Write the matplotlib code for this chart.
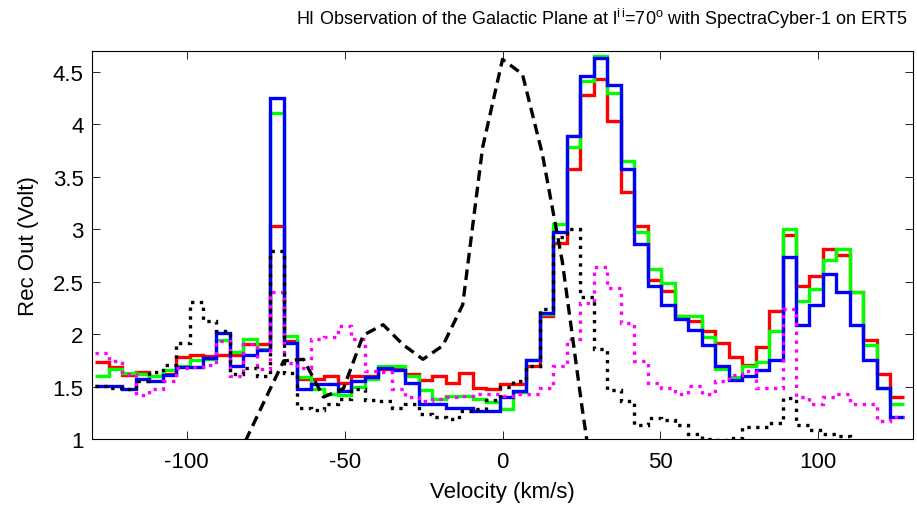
"""HI spectrum of the galactic plane at l=70 deg, SpectraCyber-1 (ERT5)."""

import numpy as np
import matplotlib.pyplot as plt

plt.rcParams["font.family"] = ["Liberation Sans", "DejaVu Sans"]
plt.rcParams["mathtext.default"] = "regular"
plt.rcParams["axes.unicode_minus"] = False

# channel edges of the receiver sweep (km/s), 60 channels
edges = np.linspace(-129.0, 127.1, 61)

red = [1.73, 1.69, 1.61, 1.64, 1.60, 1.62, 1.78, 1.80, 1.79, 1.80,
       1.80, 1.91, 1.91, 3.03, 1.93, 1.57, 1.57, 1.60, 1.53, 1.60,
       1.60, 1.67, 1.67, 1.62, 1.56, 1.60, 1.53, 1.63, 1.49, 1.48,
       1.52, 1.52, 1.70, 2.17, 2.87, 3.57, 4.28, 4.43, 4.03, 3.36,
       3.03, 2.52, 2.41, 2.17, 2.13, 2.03, 1.92, 1.78, 1.71, 1.88,
       2.22, 2.95, 2.46, 2.55, 2.81, 2.75, 2.40, 1.94, 1.62, 1.40]

green = [1.60, 1.67, 1.63, 1.62, 1.60, 1.66, 1.70, 1.75, 1.76, 1.94,
         1.83, 1.95, 1.86, 4.11, 1.98, 1.59, 1.48, 1.43, 1.42, 1.50,
         1.57, 1.70, 1.70, 1.60, 1.47, 1.38, 1.41, 1.41, 1.38, 1.35,
         1.29, 1.45, 1.75, 2.19, 3.05, 3.78, 4.41, 4.65, 4.30, 3.65,
         2.97, 2.62, 2.49, 2.17, 2.17, 1.97, 1.67, 1.59, 1.70, 1.73,
         2.03, 3.00, 2.32, 2.43, 2.71, 2.81, 2.40, 1.90, 1.49, 1.33]

blue = [1.51, 1.51, 1.48, 1.57, 1.55, 1.61, 1.69, 1.69, 1.77, 2.01,
        1.70, 1.80, 1.85, 4.25, 1.92, 1.48, 1.52, 1.52, 1.46, 1.55,
        1.59, 1.68, 1.66, 1.53, 1.33, 1.33, 1.30, 1.30, 1.27, 1.27,
        1.40, 1.46, 1.75, 2.20, 2.97, 3.89, 4.46, 4.63, 4.38, 3.57,
        2.86, 2.46, 2.28, 2.14, 2.04, 1.90, 1.70, 1.56, 1.60, 1.66,
        1.75, 2.74, 2.09, 2.28, 2.57, 2.40, 2.09, 1.75, 1.49, 1.21]

magenta = [1.82, 1.74, 1.62, 1.42, 1.48, 1.55, 1.68, 1.69, 1.71, 1.93,
           1.60, 1.91, 1.67, 2.40, 1.72, 1.68, 1.95, 1.97, 2.08, 1.95,
           1.65, 1.64, 1.48, 1.40, 1.36, 1.38, 1.40, 1.41, 1.43, 1.43,
           1.41, 1.43, 1.43, 1.49, 1.70, 1.95, 2.30, 2.64, 2.44, 2.11,
           1.74, 1.53, 1.49, 1.43, 1.51, 1.43, 1.55, 1.61, 1.65, 1.49,
           1.49, 2.24, 1.40, 1.33, 1.40, 1.43, 1.33, 1.33, 1.17, 1.21]

black_dot = [1.51, 1.49, 1.48, 1.55, 1.64, 1.71, 1.92, 2.31, 2.13, 2.03,
             1.62, 1.68, 1.60, 2.79, 1.63, 1.30, 1.28, 1.33, 1.38, 1.48,
             1.37, 1.36, 1.30, 1.33, 1.24, 1.21, 1.19, 1.27, 1.29, 1.37,
             1.50, 1.55, 1.70, 2.24, 2.93, 3.00, 2.35, 1.86, 1.47, 1.36,
             1.13, 1.20, 1.18, 1.13, 1.05, 1.00, 0.99, 1.01, 1.11, 1.11,
             1.15, 1.39, 1.13, 1.09, 1.05, 1.03, 0.97, 0.94, 0.91, 0.88]

# coarse reference profile (black dashed)
dash_v = [-88.2, -81.9, -75.6, -69.3, -63.0, -56.7, -50.4, -44.1, -37.8, -31.5,
          -25.2, -18.9, -12.6, -6.3, 0.0, 6.3, 12.6, 18.9, 25.2, 31.5]
dash_y = [0.55, 0.95, 1.35, 1.745, 1.76, 1.40, 1.48, 1.99, 2.09, 1.90,
          1.76, 1.89, 2.28, 3.78, 4.62, 4.48, 3.72, 2.70, 1.30, 0.0]

yticks = [1, 1.5, 2, 2.5, 3, 3.5, 4, 4.5]
xticks = [-100, -50, 0, 50, 100]

fig = plt.figure(figsize=(9.17, 5.06), dpi=100)
ax = fig.add_axes([92 / 917, 1 - 440 / 506, (913 - 92) / 917, (440 - 52) / 506])

lw = 2.4
ax.stairs(red, edges, baseline=None, color="#ff0000", lw=lw)
ax.stairs(green, edges, baseline=None, color="#00ff00", lw=lw)
ax.stairs(blue, edges, baseline=None, color="#0000ff", lw=lw)
ax.stairs(magenta, edges, baseline=None, color="#ff00ff", lw=lw, linestyle=":")
ax.stairs(black_dot, edges, baseline=None, color="black", lw=lw, linestyle=":")
ax.plot(dash_v, dash_y, color="black", lw=lw, linestyle=(0, (3.2, 1.8)))

ax.set_xlim(-130, 130)
ax.set_ylim(1, 4.7)
ax.set_xticks(xticks)
ax.set_xticklabels([str(t) for t in xticks])
ax.set_yticks(yticks)
ax.set_yticklabels([f"{t:g}" for t in yticks])
ax.tick_params(direction="in", length=6, width=0.6, top=True, right=True,
               labelsize=16, pad=6)
ax.tick_params(axis="x", pad=9)
for s in ax.spines.values():
    s.set_linewidth(0.8)

ax.set_xlabel("Velocity (km/s)", fontsize=16, labelpad=6)
ax.set_ylabel("Rec Out (Volt)", fontsize=16, labelpad=10)

fig.text(602 / 917, 1 - 19 / 506,
         r"HI Observation of the Galactic Plane at l$^{i\,i}$=70$^{o}$ with SpectraCyber-1 on ERT5",
         ha="center", va="center", fontsize=13)

fig.savefig("out.png", dpi=100)
